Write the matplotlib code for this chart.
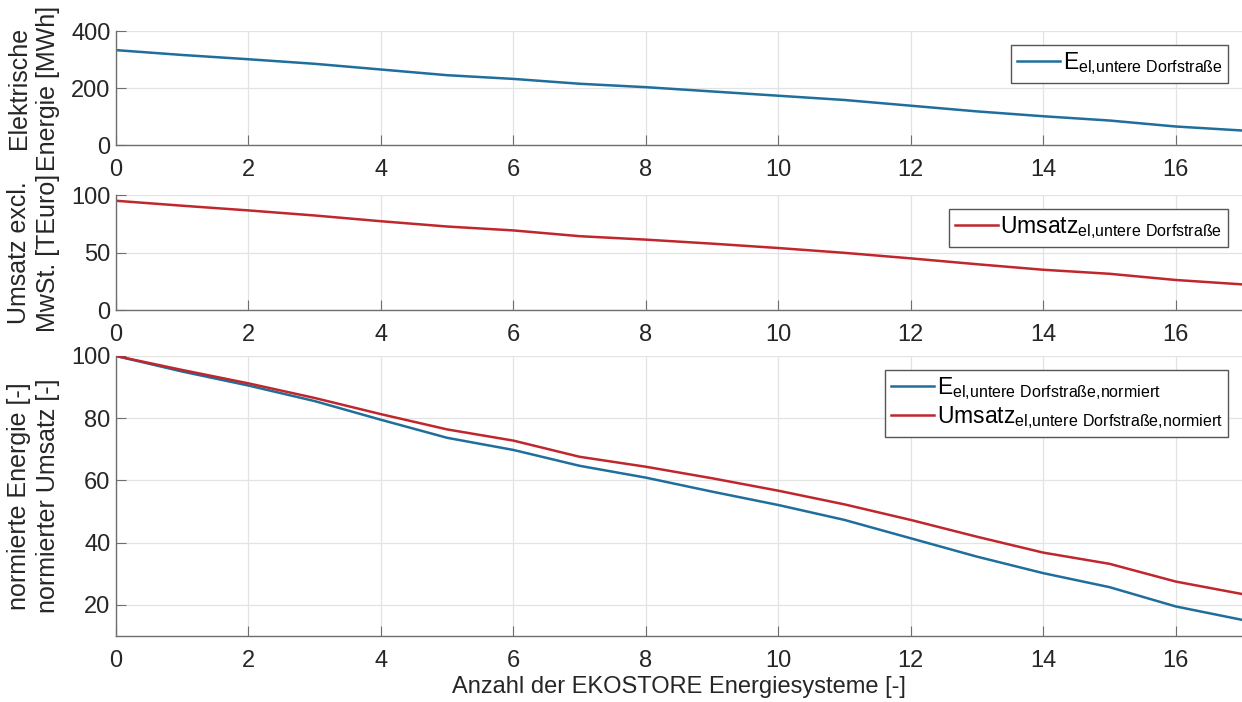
import matplotlib
matplotlib.use("Agg")
import matplotlib.pyplot as plt

plt.rcParams["font.family"] = ["Liberation Sans", "DejaVu Sans"]
plt.rcParams["mathtext.fontset"] = "custom"
plt.rcParams["mathtext.rm"] = "Liberation Sans"

# Anzahl der EKOSTORE Energiesysteme
anzahl = [0, 1, 2, 3, 4, 5, 6, 7, 8, 9, 10, 11, 12, 13, 14, 15, 16, 17]

# elektrische Energie [MWh]
energie = [333, 316, 301, 285, 265, 245, 232, 215, 203, 188, 173, 158, 138, 118, 101, 86, 65, 51]

# Umsatz excl. MwSt. [TEuro]
umsatz = [95, 90.7, 86.6, 82.2, 77.2, 72.6, 69.2, 64.2, 61.2, 57.7, 53.9, 49.7, 44.9, 39.8, 35.0, 31.5, 26.1, 22.3]

# normierte Werte [%]
energie_norm = [100, 95, 90.5, 85.5, 79.5, 73.7, 69.8, 64.7, 60.9, 56.4, 52.1, 47.3, 41.4, 35.5, 30.2, 25.7, 19.5, 15.2]
umsatz_norm = [100, 95.5, 91.2, 86.5, 81.3, 76.4, 72.8, 67.6, 64.4, 60.7, 56.7, 52.3, 47.3, 41.9, 36.8, 33.2, 27.5, 23.5]

x_ticks = [0, 2, 4, 6, 8, 10, 12, 14, 16]

BLAU = "#1f6e9c"
ROT = "#c0272d"
FS_TICK = 17
FS_LABEL = 18


def achse_stylen(ax, ylim, yticks, ylabel):
    ax.set_xlim(0, 17)
    ax.set_ylim(*ylim)
    ax.set_xticks(x_ticks)
    ax.set_yticks(yticks)
    ax.grid(True, color="#e3e3e3", linewidth=0.9)
    ax.set_axisbelow(True)
    for s in ("top", "right"):
        ax.spines[s].set_visible(False)
    for s in ("left", "bottom"):
        ax.spines[s].set_color("#6e6e6e")
        ax.spines[s].set_linewidth(1.0)
    ax.tick_params(axis="both", direction="in", length=7.5, color="#6e6e6e",
                   labelsize=FS_TICK, labelcolor="#262626")
    ax.tick_params(axis="x", pad=10)
    ax.tick_params(axis="y", pad=4)
    ax.set_ylabel(ylabel, fontsize=FS_LABEL, color="#262626", linespacing=1.25)
    ax.yaxis.set_label_coords(-0.05, 0.5)


def legende(ax):
    leg = ax.legend(loc="upper right", fontsize=16.5, frameon=True, fancybox=False,
                    edgecolor="#555555", framealpha=1.0, borderaxespad=0.6,
                    handlelength=1.9, handletextpad=0.1, borderpad=0.25,
                    labelspacing=0.1)
    leg.get_frame().set_linewidth(1.0)


fig = plt.figure(figsize=(12.42, 7.02), dpi=100)
ax1 = fig.add_axes([0.0934, 0.7934, 0.9066, 0.1624])
ax2 = fig.add_axes([0.0934, 0.5584, 0.9066, 0.1638])
ax3 = fig.add_axes([0.0934, 0.0940, 0.9066, 0.3989])

ax1.plot(anzahl, energie, color=BLAU, linewidth=1.8,
         label=r"$\mathregular{E_{el{,}untere\ Dorfstraße}}$")
achse_stylen(ax1, (0, 400), [0, 200, 400], "Elektrische\nEnergie [MWh]")
legende(ax1)

ax2.plot(anzahl, umsatz, color=ROT, linewidth=1.8,
         label=r"$\mathregular{Umsatz_{el{,}untere\ Dorfstraße}}$")
achse_stylen(ax2, (0, 100), [0, 50, 100], "Umsatz excl.\nMwSt. [TEuro]")
legende(ax2)

ax3.plot(anzahl, energie_norm, color=BLAU, linewidth=1.8,
         label=r"$\mathregular{E_{el{,}untere\ Dorfstraße{,}normiert}}$")
ax3.plot(anzahl, umsatz_norm, color=ROT, linewidth=1.8,
         label=r"$\mathregular{Umsatz_{el{,}untere\ Dorfstraße{,}normiert}}$")
achse_stylen(ax3, (10, 100), [20, 40, 60, 80, 100],
             "normierte Energie [-]\nnormierter Umsatz [-]")
ax3.set_xlabel("Anzahl der EKOSTORE Energiesysteme [-]", fontsize=FS_TICK,
               color="#262626", labelpad=3)
legende(ax3)

fig.savefig("out.png", dpi=100)
